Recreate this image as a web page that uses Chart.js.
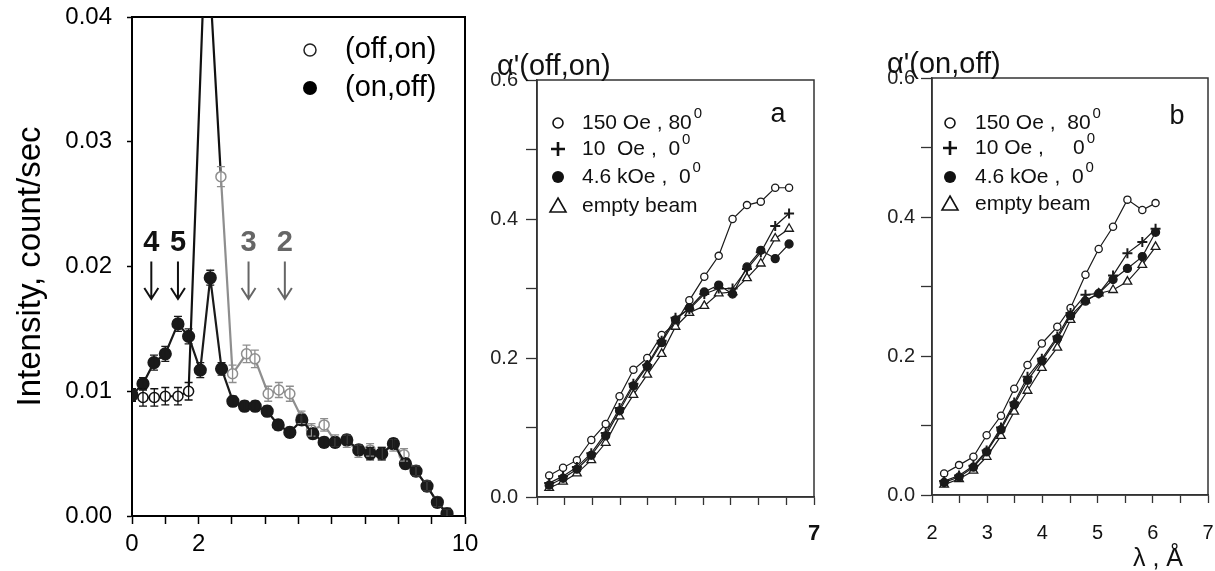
<!DOCTYPE html>
<html>
<head>
<meta charset="utf-8">
<script src="https://cdn.jsdelivr.net/npm/chart.js@4.4.0/dist/chart.umd.min.js"></script>
<style>
  body { margin: 0; background: #fff; }
  #wrap { position: relative; width: 1215px; height: 571px; overflow: hidden; background: #fff; }
  canvas { position: absolute; top: 0; }
</style>
</head>
<body>
<div id="wrap">
  <canvas id="c1" width="480" height="571" style="left:0px"></canvas>
  <canvas id="c2" width="370" height="571" style="left:480px"></canvas>
  <canvas id="c3" width="365" height="571" style="left:850px"></canvas>
</div>
<script>
// ---- left panel: intensity (count/sec) ----
var offOnX = [0, 0.33, 0.67, 1.0, 1.38, 1.70, 2.23, 2.67, 3.02, 3.44, 3.69, 4.09, 4.41, 4.74, 5.09, 5.39, 5.77, 6.10, 6.45, 6.80, 7.15, 7.50, 7.85, 8.17, 8.53, 8.86, 9.17, 9.46];
var offOnY = [0.0097, 0.0095, 0.0095, 0.0096, 0.0096, 0.0100, 0.0480, 0.0272, 0.0114, 0.0130, 0.0126, 0.0098, 0.0101, 0.0098, 0.0079, 0.0069, 0.0073, 0.0060, 0.0060, 0.0052, 0.0053, 0.0050, 0.0057, 0.0049, 0.0036, 0.0024, 0.0011, 0.0002];
var offOnErr = [0.0005, 0.0007, 0.0007, 0.0007, 0.0007, 0.0007, 0.0009, 0.0008, 0.0007, 0.0007, 0.0007, 0.0006, 0.0006, 0.0006, 0.0005, 0.0005, 0.0005, 0.0005, 0.0005, 0.0005, 0.0005, 0.0005, 0.0005, 0.0005, 0.0004, 0.0004, 0.0004, 0.0004];

var onOffX = [0, 0.33, 0.66, 1.0, 1.38, 1.70, 2.05, 2.35, 2.69, 3.03, 3.38, 3.70, 4.06, 4.39, 4.74, 5.10, 5.43, 5.77, 6.10, 6.45, 6.81, 7.15, 7.50, 7.85, 8.21, 8.53, 8.86, 9.17, 9.46];
var onOffY = [0.0097, 0.0106, 0.0123, 0.0130, 0.0154, 0.0144, 0.0117, 0.0191, 0.0118, 0.0092, 0.0088, 0.0088, 0.0084, 0.0073, 0.0067, 0.0077, 0.0066, 0.0059, 0.0059, 0.0061, 0.0053, 0.0050, 0.0050, 0.0058, 0.0042, 0.0036, 0.0024, 0.0011, 0.0002];
var onOffErr = [0.0004, 0.0005, 0.0006, 0.0006, 0.0006, 0.0006, 0.0006, 0.0006, 0.0005, 0.0004, 0.0004, 0.0004, 0.0004, 0.0004, 0.0004, 0.0004, 0.0004, 0.0004, 0.0004, 0.0004, 0.0004, 0.0005, 0.0005, 0.0004, 0.0004, 0.0004, 0.0004, 0.0004, 0.0004];

var leftXLabels = [0, 2, 10];
var orderLabels = ['4', '5', '3', '2'];
var orderPos = [0.58, 1.38, 3.50, 4.59];

// ---- panel a: alpha'(off,on) ----
var aX = [2.22, 2.47, 2.72, 2.98, 3.24, 3.49, 3.74, 3.99, 4.25, 4.50, 4.75, 5.02, 5.28, 5.53, 5.79, 6.04, 6.30, 6.55];
var a150 = [0.031, 0.042, 0.053, 0.082, 0.105, 0.145, 0.183, 0.200, 0.233, 0.250, 0.283, 0.317, 0.347, 0.400, 0.420, 0.425, 0.445, 0.445];
var a10 = [0.020, 0.030, 0.043, 0.063, 0.092, 0.128, 0.163, 0.190, 0.225, 0.258, 0.270, 0.292, 0.300, 0.300, 0.328, 0.352, 0.390, 0.408];
var a46k = [0.017, 0.027, 0.040, 0.060, 0.088, 0.124, 0.160, 0.188, 0.222, 0.255, 0.272, 0.295, 0.305, 0.292, 0.331, 0.355, 0.343, 0.364];
var aEmpty = [0.013, 0.022, 0.034, 0.053, 0.078, 0.116, 0.147, 0.176, 0.206, 0.245, 0.265, 0.275, 0.293, 0.295, 0.315, 0.336, 0.372, 0.386];

// ---- panel b: alpha'(on,off) ----
var bX = [2.22, 2.49, 2.75, 2.99, 3.25, 3.49, 3.73, 3.99, 4.27, 4.51, 4.78, 5.02, 5.28, 5.54, 5.81, 6.05];
var b150 = [0.031, 0.043, 0.055, 0.086, 0.114, 0.153, 0.187, 0.218, 0.242, 0.269, 0.317, 0.354, 0.386, 0.425, 0.410, 0.420];
var b10 = [0.020, 0.028, 0.042, 0.064, 0.097, 0.133, 0.170, 0.196, 0.228, 0.262, 0.288, 0.290, 0.316, 0.348, 0.364, 0.383];
var b46k = [0.018, 0.026, 0.040, 0.062, 0.094, 0.130, 0.165, 0.193, 0.225, 0.258, 0.279, 0.290, 0.310, 0.326, 0.343, 0.378];
var bEmpty = [0.015, 0.023, 0.035, 0.055, 0.085, 0.120, 0.150, 0.183, 0.212, 0.252, 0.280, 0.290, 0.295, 0.307, 0.331, 0.357];

var alphaYLabels = [0, 0.2, 0.4, 0.6];
var aXLabels = [7];
var bXLabels = [2, 3, 4, 5, 6, 7];
var legendText = ['150 Oe , 80', '10  Oe ,  0', '4.6 kOe ,  0', 'empty beam'];
var legendTextB = ['150 Oe ,  80', '10 Oe ,     0', '4.6 kOe ,  0', 'empty beam'];
var legendSup = ['0', '0', '0', ''];

Chart.defaults.font.family = '"Liberation Sans", Arial, sans-serif';
Chart.defaults.color = '#000';

var FONT = '"Liberation Sans", Arial, sans-serif';
var GRAY = '#8e8e8e';

function pts(xs, ys) {
  var out = [];
  for (var i = 0; i < xs.length; i++) out.push({ x: xs[i], y: ys[i] });
  return out;
}

function onlyLabels(list, digits) {
  return function (v) {
    for (var i = 0; i < list.length; i++) {
      if (Math.abs(list[i] - v) < 1e-6) return Number(v).toFixed(digits);
    }
    return '';
  };
}

// keep the plot box where it is, whatever the edge labels want
function fixY(w) {
  return function (s) { s.width = w; s.paddingTop = 0; s.paddingBottom = 0; };
}
function fixX(h) {
  return function (s) { s.height = h; s.paddingLeft = 0; s.paddingRight = 0; };
}

function drawSym(ctx, kind, x, y) {
  ctx.save();
  ctx.strokeStyle = '#111';
  ctx.fillStyle = '#111';
  ctx.lineWidth = 1.6;
  ctx.beginPath();
  if (kind === 'open') {
    ctx.arc(x, y, 5, 0, Math.PI * 2);
    ctx.fillStyle = '#fff'; ctx.fill(); ctx.stroke();
  } else if (kind === 'plus') {
    ctx.lineWidth = 2.6;
    ctx.moveTo(x - 7, y); ctx.lineTo(x + 7, y);
    ctx.moveTo(x, y - 7); ctx.lineTo(x, y + 7);
    ctx.stroke();
  } else if (kind === 'dot') {
    ctx.arc(x, y, 6, 0, Math.PI * 2);
    ctx.fill();
  } else if (kind === 'tri') {
    ctx.moveTo(x, y - 8); ctx.lineTo(x + 8, y + 6); ctx.lineTo(x - 8, y + 6); ctx.closePath();
    ctx.stroke();
  }
  ctx.restore();
}

function offOnColor(x) { return x >= 2.6 ? GRAY : '#111'; }

// error bars + frame + arrows + legend for left panel
var leftDecor = {
  id: 'leftDecor',
  beforeDatasetsDraw: function (chart) {
    var a = chart.chartArea, ctx = chart.ctx;
    ctx.save();
    ctx.strokeStyle = '#000';
    ctx.lineWidth = 2;
    ctx.strokeRect(a.left, a.top, a.right - a.left, a.bottom - a.top);
    ctx.restore();
  },
  afterDatasetsDraw: function (chart) {
    var ctx = chart.ctx, xs = chart.scales.x, ys = chart.scales.y, a = chart.chartArea;
    ctx.save();
    ctx.beginPath();
    ctx.rect(a.left, a.top, a.right - a.left, a.bottom - a.top);
    ctx.clip();
    [1, 0].forEach(function (di) {
      var ds = chart.data.datasets[di];
      ds.data.forEach(function (p, i) {
        if (p.y > ys.max) return;
        var e = ds.errors[i];
        var px = xs.getPixelForValue(p.x);
        var t = ys.getPixelForValue(p.y + e), b = ys.getPixelForValue(p.y - e);
        ctx.strokeStyle = di === 1 ? offOnColor(p.x) : '#1a1a1a';
        ctx.lineWidth = 1.3;
        ctx.beginPath();
        ctx.moveTo(px, t); ctx.lineTo(px, b);
        ctx.moveTo(px - 4, t); ctx.lineTo(px + 4, t);
        ctx.moveTo(px - 4, b); ctx.lineTo(px + 4, b);
        ctx.stroke();
      });
    });
    ctx.restore();

    // order arrows
    ctx.save();
    for (var i = 0; i < orderLabels.length; i++) {
      var px = xs.getPixelForValue(orderPos[i]);
      var col = i < 2 ? '#111' : '#666';
      ctx.fillStyle = col;
      ctx.strokeStyle = col;
      ctx.font = 'bold 29px ' + FONT;
      ctx.textAlign = 'center';
      ctx.textBaseline = 'middle';
      ctx.fillText(orderLabels[i], px, ys.getPixelForValue(0.0219));
      var y0 = ys.getPixelForValue(0.0204), y1 = ys.getPixelForValue(0.0174);
      ctx.lineWidth = 2;
      ctx.beginPath();
      ctx.moveTo(px, y0); ctx.lineTo(px, y1);
      ctx.moveTo(px - 7, y1 - 11); ctx.lineTo(px, y1); ctx.lineTo(px + 7, y1 - 11);
      ctx.stroke();
    }
    ctx.restore();

    // legend
    ctx.save();
    ctx.font = '29px ' + FONT;
    ctx.textAlign = 'left';
    ctx.textBaseline = 'middle';
    var lx = a.right - 155;
    ctx.strokeStyle = '#222';
    ctx.lineWidth = 1.5;
    ctx.beginPath(); ctx.arc(lx, a.top + 33, 6, 0, Math.PI * 2); ctx.fillStyle = '#fff'; ctx.fill(); ctx.stroke();
    ctx.fillStyle = '#000';
    ctx.beginPath(); ctx.arc(lx, a.top + 71, 7, 0, Math.PI * 2); ctx.fill();
    ctx.fillText('(off,on)', lx + 35, a.top + 33);
    ctx.fillText('(on,off)', lx + 35, a.top + 71);
    ctx.restore();
  }
};

new Chart(document.getElementById('c1'), {
  type: 'line',
  data: {
    datasets: [
      {
        label: '(on,off)',
        data: pts(onOffX, onOffY),
        errors: onOffErr,
        order: 0,
        borderColor: '#1a1a1a',
        borderWidth: 2.2,
        pointRadius: 5.5,
        pointBackgroundColor: '#1a1a1a',
        pointBorderColor: '#1a1a1a',
        tension: 0
      },
      {
        label: '(off,on)',
        data: pts(offOnX, offOnY),
        errors: offOnErr,
        order: 1,
        borderColor: '#111',
        borderWidth: 2.2,
        segment: { borderColor: function (c) { return offOnColor(c.p0.parsed.x); } },
        pointRadius: 5,
        pointBorderWidth: 1.5,
        pointBackgroundColor: '#fff',
        pointBorderColor: function (c) { return c.raw ? offOnColor(c.raw.x) : '#111'; },
        tension: 0
      }
    ]
  },
  options: {
    responsive: false,
    animation: false,
    events: [],
    layout: { padding: { top: 17, right: 15, left: 0, bottom: 0 } },
    plugins: { legend: { display: false }, tooltip: { enabled: false } },
    scales: {
      x: {
        type: 'linear', min: 0, max: 10,
        ticks: { stepSize: 1, autoSkip: false, maxRotation: 0, padding: 6, font: { size: 24 }, color: '#000', callback: onlyLabels(leftXLabels, 0) },
        grid: { drawOnChartArea: false, drawTicks: true, tickLength: 8, tickColor: '#000', tickWidth: 1.5 },
        border: { display: true, color: '#000', width: 2 },
        afterFit: fixX(55)
      },
      y: {
        type: 'linear', min: 0, max: 0.04,
        ticks: { stepSize: 0.01, padding: 15, font: { size: 24 }, color: '#000', callback: function (v) { return Number(v).toFixed(2); } },
        grid: { drawOnChartArea: false, drawTicks: true, tickLength: 5, tickColor: '#000', tickWidth: 1.5 },
        border: { display: true, color: '#000', width: 2 },
        title: { display: true, text: 'Intensity, count/sec', font: { size: 33 }, color: '#000', padding: { top: 11, bottom: 0 } },
        afterFit: fixY(132)
      }
    }
  },
  plugins: [leftDecor]
});

// ---- panels a and b ----
function makePanel(id, o) {
  var common = { borderColor: '#1a1a1a', borderWidth: 1.2, pointBorderColor: '#1a1a1a', pointBorderWidth: 1.3, tension: 0 };
  var sets = [
    Object.assign({ data: pts(o.x, o.s150), pointStyle: 'circle', pointRadius: 3.6, pointBackgroundColor: '#fff', order: 3 }, common),
    Object.assign({ data: pts(o.x, o.s10), pointStyle: 'cross', pointRadius: 5, order: 0 }, common),
    Object.assign({ data: pts(o.x, o.s46), pointStyle: 'circle', pointRadius: 4, pointBackgroundColor: '#1a1a1a', order: 1 }, common),
    Object.assign({ data: pts(o.x, o.sEmpty), pointStyle: 'triangle', pointRadius: 5, pointBackgroundColor: '#fff', order: 2 }, common)
  ];
  sets[1].pointBorderWidth = 2;
  var decor = {
    id: 'panelDecor',
    beforeDatasetsDraw: function (chart) {
      var a = chart.chartArea, ctx = chart.ctx;
      ctx.save();
      ctx.strokeStyle = '#333';
      ctx.lineWidth = 1.5;
      ctx.strokeRect(a.left, a.top, a.right - a.left, a.bottom - a.top);
      ctx.restore();
    },
    afterDraw: function (chart) {
      var a = chart.chartArea, ctx = chart.ctx;
      ctx.save();
      ctx.fillStyle = '#111';
      ctx.textBaseline = 'middle';
      ctx.textAlign = 'left';
      ctx.font = '29px ' + FONT;
      ctx.fillText(o.title, a.left + o.titleDx, a.top - 13);
      ctx.textAlign = 'center';
      ctx.font = '27px ' + FONT;
      ctx.fillText(o.letter, a.right + o.letterDx, a.top + o.letterDy);
      var kinds = ['open', 'plus', 'dot', 'tri'];
      for (var i = 0; i < kinds.length; i++) {
        var y = a.top + o.rows[i];
        drawSym(ctx, kinds[i], a.left + o.symDx, y);
        ctx.textAlign = 'left';
        ctx.font = '21px ' + FONT;
        ctx.fillStyle = '#111';
        ctx.fillText(o.legend[i], a.left + o.textDx, y);
        if (legendSup[i]) {
          var w = ctx.measureText(o.legend[i]).width;
          ctx.font = '15px ' + FONT;
          ctx.fillText(legendSup[i], a.left + o.textDx + w + 2, y - 9);
        }
      }
      if (o.xTitle) {
        ctx.textAlign = 'center';
        ctx.font = '25px ' + FONT;
        ctx.fillText(o.xTitle, a.right - 50, a.bottom + 64);
      }
      ctx.restore();
    }
  };
  new Chart(document.getElementById(id), {
    type: 'line',
    data: { datasets: sets },
    options: {
      responsive: false,
      animation: false,
      events: [],
      layout: { padding: { top: o.padTop, right: o.padRight, left: 0, bottom: 0 } },
      plugins: { legend: { display: false }, tooltip: { enabled: false } },
      scales: {
        x: {
          type: 'linear', min: 2, max: 7,
          ticks: { stepSize: 0.5, autoSkip: false, maxRotation: 0, padding: o.xPad, font: o.xFont, color: '#111', callback: onlyLabels(o.xLabels, 0) },
          grid: { drawOnChartArea: false, drawTicks: true, tickLength: 8, tickColor: '#333', tickWidth: 1.3 },
          border: { display: true, color: '#333', width: 1.5 },
          afterFit: fixX(o.xHeight)
        },
        y: {
          type: 'linear', min: 0, max: 0.6,
          ticks: { stepSize: 0.1, padding: o.yPad, font: { size: 20 }, color: '#222', callback: onlyLabels(alphaYLabels, 1) },
          grid: { drawOnChartArea: false, drawTicks: true, tickLength: 11, tickColor: '#333', tickWidth: 1.3 },
          border: { display: true, color: '#333', width: 1.5 },
          afterFit: fixY(o.yWidth)
        }
      }
    },
    plugins: [decor]
  });
}

makePanel('c2', {
  x: aX, s150: a150, s10: a10, s46: a46k, sEmpty: aEmpty,
  xLabels: aXLabels, xFont: { size: 22, weight: 'bold' }, xPad: 16,
  yWidth: 57, xHeight: 74, padTop: 80, padRight: 36, yPad: 8,
  title: "\u03b1'(off,on)", titleDx: -40, letter: 'a', letterDx: -36, letterDy: 35,
  legend: legendText, symDx: 21, textDx: 45, rows: [43, 69, 97, 126]
});

makePanel('c3', {
  x: bX, s150: b150, s10: b10, s46: b46k, sEmpty: bEmpty,
  xLabels: bXLabels, xFont: { size: 20 }, xPad: 18,
  yWidth: 82, xHeight: 76, padTop: 78, padRight: 6, yPad: 6,
  title: "\u03b1'(on,off)", titleDx: -45, letter: 'b', letterDx: -31, letterDy: 39,
  legend: legendTextB, symDx: 18, textDx: 43, rows: [45, 70, 99, 126],
  xTitle: '\u03bb , \u00c5'
});
</script>
</body>
</html>
